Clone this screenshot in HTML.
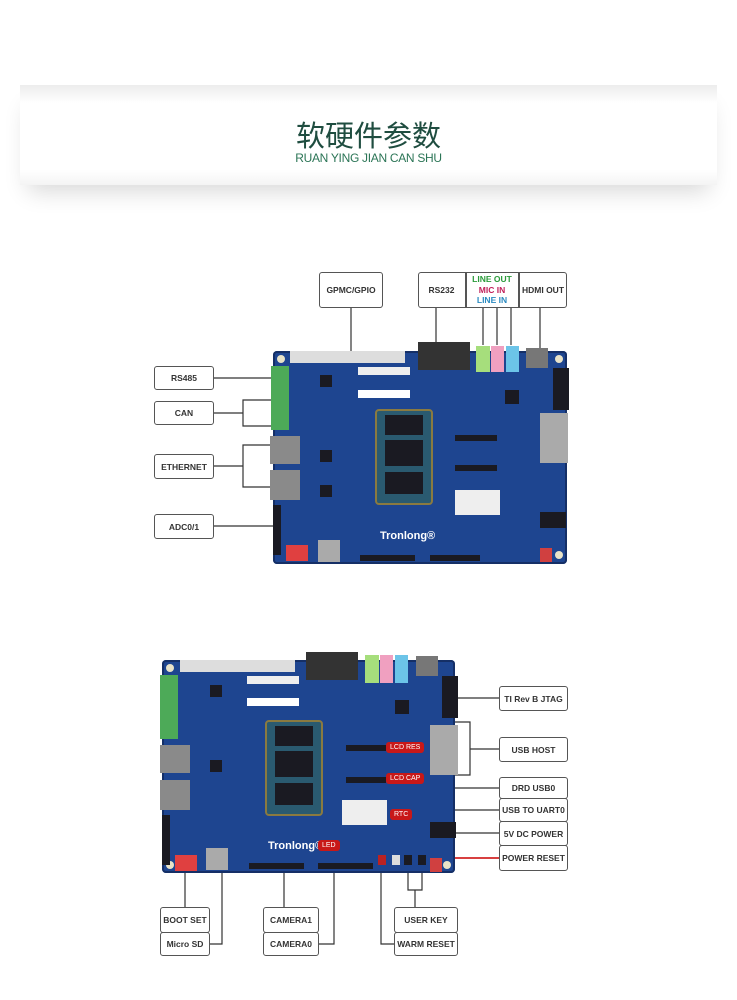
<!DOCTYPE html>
<html><head><meta charset="utf-8"><style>
body{margin:0;width:737px;height:1000px;background:#fff;position:relative;overflow:hidden;font-family:"Liberation Sans",sans-serif}
.a{position:absolute}
.box{position:absolute;border:1.5px solid #555;border-radius:3px;background:#fff;font-size:8.5px;font-weight:bold;color:#333;display:flex;align-items:center;justify-content:center;box-sizing:border-box}
.brd{position:absolute;background:#1e4590;border-radius:4px;box-shadow:inset 0 0 0 2px #152f66}
.c{position:absolute;background:#1a1a22}
.h{position:absolute;background:#e9e3c8;border-radius:50%;width:8px;height:8px}
</style></head><body>
<div class="a" style="left:20px;top:85px;width:697px;height:100px;background:linear-gradient(#ececec,#fff 18%,#fff 85%,#f4f4f4);box-shadow:0 14px 22px -8px rgba(0,0,0,0.16)"></div>
<div class="a" style="left:0;width:737px;top:113px;text-align:center;font-family:'Liberation Sans','Noto Sans CJK SC',sans-serif;font-size:29px;color:#1f4d40">软硬件参数</div>
<div class="a" style="left:0;width:737px;top:151px;text-align:center;font-size:12px;color:#2b7556;letter-spacing:-0.3px">RUAN YING JIAN CAN SHU</div>

<svg class="a" style="left:0;top:0" width="737" height="1000">
<g stroke="#333" stroke-width="1.2" fill="none">
<path d="M351 308V352M436 308V342M483 308V345M497 308V345M511 308V345M540 308V350"/>
<path d="M214 378H273M214 413H243V400H273M243 413V426H273M214 466H243V445H273M243 466V487H273M214 526H273"/>
<path d="M455 698H499M455 722H470V749H499M470 749V775H455M455 788H499M455 810H499M455 833H499"/>
<path d="M185 873V907M222 873V944H210M284 873V907M334 873V944H319M381 873V944H394M408 873V890H422V873M415 890V907"/>
</g>
<path d="M445 858H499" stroke="#c00" stroke-width="1.5"/>
</svg>

<div class="brd" style="left:273px;top:351px;width:294px;height:213px"></div>
<div class="h" style="left:277px;top:355px"></div><div class="h" style="left:555px;top:355px"></div><div class="h" style="left:555px;top:551px"></div>
<div class="a" style="left:290px;top:351px;width:115px;height:12px;background:#ddd"></div>
<div class="a" style="left:358px;top:367px;width:52px;height:8px;background:#eee"></div>
<div class="a" style="left:358px;top:390px;width:52px;height:8px;background:#fff"></div>
<div class="a" style="left:418px;top:342px;width:52px;height:28px;background:#333"></div>
<div class="a" style="left:476px;top:346px;width:14px;height:26px;background:#a6de7c"></div>
<div class="a" style="left:491px;top:346px;width:13px;height:26px;background:#f0a0c0"></div>
<div class="a" style="left:506px;top:346px;width:13px;height:26px;background:#6cc4e8"></div>
<div class="a" style="left:526px;top:348px;width:22px;height:20px;background:#777"></div>
<div class="c" style="left:553px;top:368px;width:16px;height:42px"></div>
<div class="a" style="left:271px;top:366px;width:18px;height:64px;background:#4daa58"></div>
<div class="a" style="left:270px;top:436px;width:30px;height:28px;background:#8a8a8a"></div>
<div class="a" style="left:270px;top:470px;width:30px;height:30px;background:#8a8a8a"></div>
<div class="c" style="left:273px;top:505px;width:8px;height:50px"></div>
<div class="c" style="left:320px;top:375px;width:12px;height:12px"></div>
<div class="c" style="left:320px;top:450px;width:12px;height:12px"></div>
<div class="c" style="left:320px;top:485px;width:12px;height:12px"></div>
<div class="c" style="left:505px;top:390px;width:14px;height:14px"></div>
<div class="c" style="left:455px;top:435px;width:42px;height:6px"></div>
<div class="c" style="left:455px;top:465px;width:42px;height:6px"></div>
<div class="a" style="left:375px;top:409px;width:58px;height:96px;background:#2a5a70;border:2px solid #8a7a40;border-radius:4px;box-sizing:border-box"></div>
<div class="c" style="left:385px;top:415px;width:38px;height:20px"></div>
<div class="c" style="left:385px;top:440px;width:38px;height:26px"></div>
<div class="c" style="left:385px;top:472px;width:38px;height:22px"></div>
<div class="a" style="left:540px;top:413px;width:28px;height:50px;background:#aaa"></div>
<div class="a" style="left:455px;top:490px;width:45px;height:25px;background:#eee"></div>
<div class="c" style="left:540px;top:512px;width:26px;height:16px"></div>
<div class="c" style="left:360px;top:555px;width:55px;height:6px"></div>
<div class="c" style="left:430px;top:555px;width:50px;height:6px"></div>
<div class="a" style="left:318px;top:540px;width:22px;height:22px;background:#aaa"></div>
<div class="a" style="left:380px;top:530px;color:#fff;font-weight:bold;font-size:11px">Tronlong®</div>
<div class="a" style="left:286px;top:545px;width:22px;height:16px;background:#e04040"></div>
<div class="a" style="left:540px;top:548px;width:12px;height:14px;background:#d04040"></div>

<div class="brd" style="left:162px;top:660px;width:293px;height:213px"></div>
<div class="h" style="left:166px;top:664px"></div><div class="h" style="left:443px;top:861px"></div><div class="h" style="left:166px;top:861px"></div>
<div class="a" style="left:180px;top:660px;width:115px;height:12px;background:#ddd"></div>
<div class="a" style="left:247px;top:676px;width:52px;height:8px;background:#eee"></div>
<div class="a" style="left:247px;top:698px;width:52px;height:8px;background:#fff"></div>
<div class="a" style="left:306px;top:652px;width:52px;height:28px;background:#333"></div>
<div class="a" style="left:365px;top:655px;width:14px;height:28px;background:#a6de7c"></div>
<div class="a" style="left:380px;top:655px;width:13px;height:28px;background:#f0a0c0"></div>
<div class="a" style="left:395px;top:655px;width:13px;height:28px;background:#6cc4e8"></div>
<div class="a" style="left:416px;top:656px;width:22px;height:20px;background:#777"></div>
<div class="c" style="left:442px;top:676px;width:16px;height:42px"></div>
<div class="a" style="left:160px;top:675px;width:18px;height:64px;background:#4daa58"></div>
<div class="a" style="left:160px;top:745px;width:30px;height:28px;background:#8a8a8a"></div>
<div class="a" style="left:160px;top:780px;width:30px;height:30px;background:#8a8a8a"></div>
<div class="c" style="left:162px;top:815px;width:8px;height:50px"></div>
<div class="c" style="left:210px;top:685px;width:12px;height:12px"></div>
<div class="c" style="left:210px;top:760px;width:12px;height:12px"></div>
<div class="c" style="left:395px;top:700px;width:14px;height:14px"></div>
<div class="c" style="left:346px;top:745px;width:40px;height:6px"></div>
<div class="c" style="left:346px;top:777px;width:40px;height:6px"></div>
<div class="a" style="left:265px;top:720px;width:58px;height:96px;background:#2a5a70;border:2px solid #8a7a40;border-radius:4px;box-sizing:border-box"></div>
<div class="c" style="left:275px;top:726px;width:38px;height:20px"></div>
<div class="c" style="left:275px;top:751px;width:38px;height:26px"></div>
<div class="c" style="left:275px;top:783px;width:38px;height:22px"></div>
<div class="a" style="left:430px;top:725px;width:28px;height:50px;background:#aaa"></div>
<div class="a" style="left:342px;top:800px;width:45px;height:25px;background:#eee"></div>
<div class="c" style="left:430px;top:822px;width:26px;height:16px"></div>
<div class="c" style="left:249px;top:863px;width:55px;height:6px"></div>
<div class="c" style="left:318px;top:863px;width:55px;height:6px"></div>
<div class="a" style="left:206px;top:848px;width:22px;height:22px;background:#aaa"></div>
<div class="c" style="left:378px;top:855px;width:8px;height:10px;background:#b22"></div>
<div class="c" style="left:392px;top:855px;width:8px;height:10px;background:#ddd"></div>
<div class="c" style="left:404px;top:855px;width:8px;height:10px"></div>
<div class="c" style="left:418px;top:855px;width:8px;height:10px"></div>
<div class="a" style="left:430px;top:858px;width:12px;height:14px;background:#d04040"></div>
<div class="a" style="left:268px;top:840px;color:#fff;font-weight:bold;font-size:11px">Tronlong®</div>
<div class="a" style="left:175px;top:855px;width:22px;height:16px;background:#e04040"></div>
<div class="a" style="left:386px;top:742px;background:#c81818;color:#fff;font-size:7px;padding:2px 4px;border-radius:3px">LCD RES</div>
<div class="a" style="left:386px;top:773px;background:#c81818;color:#fff;font-size:7px;padding:2px 4px;border-radius:3px">LCD CAP</div>
<div class="a" style="left:390px;top:809px;background:#c81818;color:#fff;font-size:7px;padding:2px 4px;border-radius:3px">RTC</div>
<div class="a" style="left:318px;top:840px;background:#c81818;color:#fff;font-size:7px;padding:2px 4px;border-radius:3px">LED</div>

<div class="box" style="left:418px;top:272px;width:149px;height:36px"></div>
<div class="box" style="left:319px;top:272px;width:64px;height:36px">GPMC/GPIO</div>
<div class="a" style="left:418px;top:272px;width:47px;height:36px;display:flex;align-items:center;justify-content:center;font-size:8.5px;font-weight:bold;color:#333">RS232</div>
<div class="a" style="left:465px;top:272px;width:1.5px;height:36px;background:#555"></div>
<div class="a" style="left:518px;top:272px;width:1.5px;height:36px;background:#555"></div>
<div class="a" style="left:466px;top:274px;width:52px;text-align:center;font-size:8.5px;font-weight:bold;line-height:10.5px"><span style="color:#2a9a3a">LINE OUT</span><br><span style="color:#c0205a">MIC IN</span><br><span style="color:#2a8ac0">LINE IN</span></div>
<div class="a" style="left:519px;top:272px;width:48px;height:36px;display:flex;align-items:center;justify-content:center;font-size:8.5px;font-weight:bold;color:#333">HDMI OUT</div>
<div class="box" style="left:154px;top:366px;width:60px;height:24px">RS485</div>
<div class="box" style="left:154px;top:401px;width:60px;height:24px">CAN</div>
<div class="box" style="left:154px;top:454px;width:60px;height:25px">ETHERNET</div>
<div class="box" style="left:154px;top:514px;width:60px;height:25px">ADC0/1</div>

<div class="box" style="left:499px;top:686px;width:69px;height:25px">TI Rev B JTAG</div>
<div class="box" style="left:499px;top:737px;width:69px;height:25px">USB HOST</div>
<div class="box" style="left:499px;top:777px;width:69px;height:22px">DRD USB0</div>
<div class="box" style="left:499px;top:798px;width:69px;height:24px">USB TO UART0</div>
<div class="box" style="left:499px;top:821px;width:69px;height:25px">5V DC POWER</div>
<div class="box" style="left:499px;top:845px;width:69px;height:26px">POWER RESET</div>
<div class="box" style="left:160px;top:907px;width:50px;height:26px">BOOT SET</div>
<div class="box" style="left:160px;top:932px;width:50px;height:24px">Micro SD</div>
<div class="box" style="left:263px;top:907px;width:56px;height:26px">CAMERA1</div>
<div class="box" style="left:263px;top:932px;width:56px;height:24px">CAMERA0</div>
<div class="box" style="left:394px;top:907px;width:64px;height:26px">USER KEY</div>
<div class="box" style="left:394px;top:932px;width:64px;height:24px">WARM RESET</div>
</body></html>
